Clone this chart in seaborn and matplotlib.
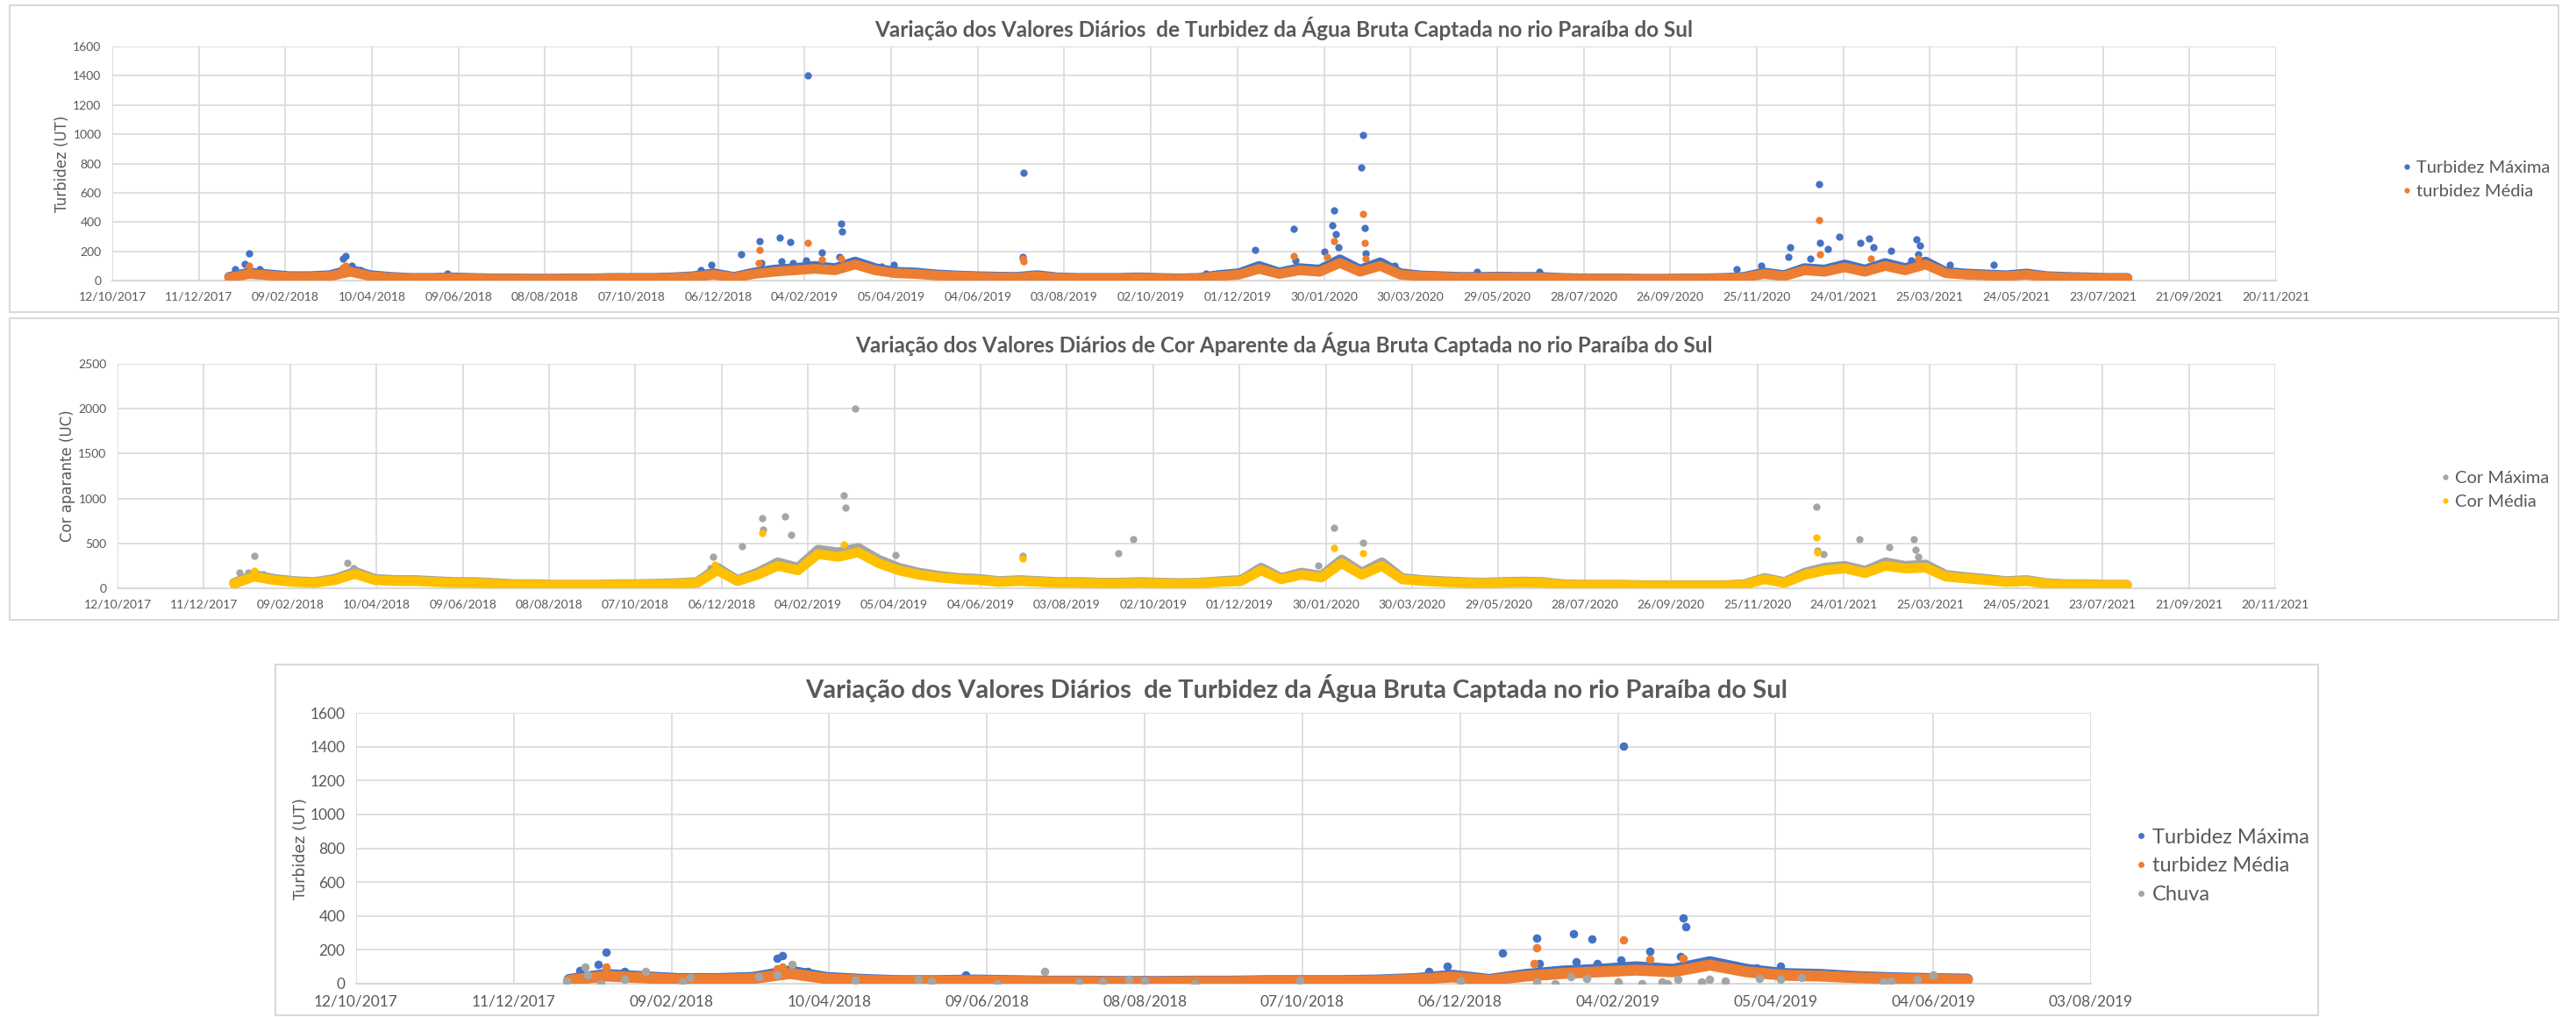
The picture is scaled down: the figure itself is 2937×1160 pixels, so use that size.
import pandas as pd
import matplotlib
matplotlib.use("Agg")
import matplotlib.pyplot as plt
import matplotlib.dates as mdates
from matplotlib.lines import Line2D
from matplotlib.patches import Rectangle
import seaborn as sns

# ---------------- dados ----------------
# valores de base quinzenais, a partir de 01/01/2018
base_inicio = "2018-01-01"

turb_max_base = [25, 55, 42, 30, 30, 37, 75, 37, 25, 18, 18, 22, 18, 15, 15, 13, 13, 15, 15, 18,
                 18, 18, 22, 30, 50, 25, 55, 75, 85, 100, 85, 130, 85, 60, 55, 42, 35, 30, 27, 25,
                 37, 22, 18, 18, 18, 22, 18, 15, 18, 38, 50, 100, 55, 85, 75, 145, 75, 125, 50, 35,
                 30, 25, 25, 27, 25, 25, 18, 15, 15, 15, 12, 12, 15, 15, 18, 25, 55, 37, 85, 75,
                 110, 75, 120, 85, 130, 60, 48, 42, 36, 48, 30, 25, 22, 18, 18]
turb_med_base = [20, 45, 35, 25, 25, 30, 60, 30, 20, 15, 15, 18, 15, 12, 12, 10, 10, 12, 12, 15,
                 15, 15, 18, 25, 40, 20, 45, 60, 70, 80, 70, 110, 70, 50, 45, 35, 30, 25, 22, 20,
                 30, 18, 15, 15, 15, 18, 15, 12, 15, 30, 40, 80, 45, 70, 60, 120, 60, 100, 40, 30,
                 25, 20, 20, 22, 20, 20, 15, 12, 12, 12, 10, 10, 12, 12, 15, 20, 45, 30, 70, 60,
                 90, 60, 100, 70, 110, 50, 40, 35, 30, 40, 25, 20, 18, 15, 15]
cor_max_base = [60, 150, 105, 80, 70, 105, 185, 105, 92, 92, 80, 70, 70, 58, 46, 46, 40, 40, 40, 46,
                46, 52, 58, 70, 230, 92, 175, 290, 230, 430, 400, 450, 320, 230, 175, 140, 115, 105, 80, 92,
                80, 70, 70, 63, 63, 70, 63, 58, 63, 80, 92, 230, 115, 175, 140, 320, 175, 290, 115, 92,
                80, 70, 63, 70, 75, 70, 46, 40, 40, 40, 35, 35, 35, 35, 35, 46, 115, 70, 175, 230,
                250, 195, 290, 250, 265, 150, 125, 105, 80, 92, 58, 46, 46, 40, 40]
cor_med_base = [50, 130, 90, 70, 60, 90, 160, 90, 80, 80, 70, 60, 60, 50, 40, 40, 35, 35, 35, 40,
                40, 45, 50, 60, 200, 80, 150, 250, 200, 380, 350, 400, 280, 200, 150, 120, 100, 90, 70, 80,
                70, 60, 60, 55, 55, 60, 55, 50, 55, 70, 80, 200, 100, 150, 120, 280, 150, 250, 100, 80,
                70, 60, 55, 60, 65, 60, 40, 35, 35, 35, 30, 30, 30, 30, 30, 40, 100, 60, 150, 200,
                220, 170, 250, 220, 230, 130, 110, 90, 70, 80, 50, 40, 40, 35, 35]

# dias com picos
turb_max_pico_datas = ["2018-01-05", "2018-01-12", "2018-01-15", "2018-01-22", "2018-03-21", "2018-03-23",
                       "2018-03-27", "2018-04-02", "2018-06-01", "2018-11-24", "2018-12-01", "2018-12-22",
                       "2019-01-04", "2019-01-05", "2019-01-18", "2019-01-19", "2019-01-25", "2019-01-27",
                       "2019-02-05", "2019-02-06", "2019-02-16", "2019-02-28", "2019-03-01", "2019-03-02",
                       "2019-03-10", "2019-03-29", "2019-04-07", "2019-07-05", "2019-07-06", "2019-11-09",
                       "2019-12-13", "2020-01-09", "2020-01-10", "2020-01-30", "2020-02-05", "2020-02-06",
                       "2020-02-07", "2020-02-09", "2020-02-25", "2020-02-26", "2020-02-27", "2020-02-28",
                       "2020-03-19", "2020-05-15", "2020-06-27", "2020-11-11", "2020-11-28", "2020-12-17",
                       "2020-12-18", "2021-01-01", "2021-01-07", "2021-01-08", "2021-01-13", "2021-01-21",
                       "2021-02-05", "2021-02-11", "2021-02-14", "2021-02-26", "2021-03-12", "2021-03-16",
                       "2021-03-17", "2021-03-18", "2021-04-08", "2021-05-08"]
turb_max_pico_valores = [80, 115, 185, 75, 150, 165,
                         100, 70, 50, 70, 105, 180,
                         270, 120, 295, 130, 265, 120,
                         140, 1405, 190, 160, 390, 335,
                         110, 95, 105, 160, 735, 50,
                         210, 355, 140, 195, 375, 480,
                         320, 230, 775, 995, 360, 185,
                         100, 60, 60, 80, 100, 160,
                         230, 150, 660, 255, 215, 300,
                         260, 290, 230, 205, 140, 280,
                         180, 240, 105, 105]
turb_med_pico_datas = ["2018-01-15", "2018-03-21", "2018-03-23", "2019-01-03", "2019-01-04", "2019-02-06",
                       "2019-02-16", "2019-03-01", "2019-07-05", "2019-07-06", "2020-01-09", "2020-02-01",
                       "2020-02-06", "2020-02-26", "2020-02-27", "2020-02-28", "2021-01-07", "2021-01-08",
                       "2021-02-12", "2021-03-17"]
turb_med_pico_valores = [100, 90, 100, 120, 210, 260,
                         145, 150, 150, 130, 170, 160,
                         270, 455, 260, 150, 415, 180,
                         150, 150]
cor_max_pico_datas = ["2018-01-05", "2018-01-11", "2018-01-15", "2018-01-21", "2018-03-21", "2018-03-25",
                      "2018-11-28", "2018-11-30", "2018-12-20", "2019-01-03", "2019-01-04", "2019-01-19",
                      "2019-01-23", "2019-03-01", "2019-03-02", "2019-03-09", "2019-04-06", "2019-07-03",
                      "2019-09-08", "2019-09-18", "2020-01-25", "2020-02-05", "2020-02-25", "2021-01-05",
                      "2021-01-06", "2021-01-10", "2021-02-04", "2021-02-25", "2021-03-14", "2021-03-15",
                      "2021-03-17"]
cor_max_pico_valores = [180, 180, 365, 160, 280, 220,
                        220, 350, 470, 780, 650, 800,
                        600, 1040, 900, 2000, 370, 365,
                        390, 550, 250, 670, 510, 905,
                        420, 380, 550, 460, 550, 430,
                        355]
cor_med_pico_datas = ["2018-01-15", "2018-12-01", "2019-01-03", "2019-03-01", "2019-07-03", "2020-02-05",
                      "2020-02-25", "2021-01-05", "2021-01-06"]
cor_med_pico_valores = [200, 260, 620, 490, 330, 450,
                        390, 570, 400]

# chuva (mm) - apenas até junho/2019
chuva_datas = ["2017-12-31", "2018-01-07", "2018-01-08", "2018-01-13", "2018-01-22", "2018-01-30",
               "2018-02-13", "2018-02-16", "2018-03-14", "2018-03-21", "2018-03-27", "2018-04-20",
               "2018-05-14", "2018-05-19", "2018-06-13", "2018-07-01", "2018-07-14", "2018-07-23",
               "2018-08-02", "2018-08-08", "2018-08-27", "2018-10-06", "2018-12-06", "2019-01-04",
               "2019-01-11", "2019-01-17", "2019-01-23", "2019-02-04", "2019-02-13", "2019-02-21",
               "2019-02-23", "2019-02-27", "2019-03-08", "2019-03-11", "2019-03-17", "2019-03-30",
               "2019-04-07", "2019-04-15", "2019-05-16", "2019-05-19", "2019-05-29", "2019-06-04"]
chuva_valores = [17, 96, 52, 0, 26, 70,
                 9, 35, 43, 52, 113, 20,
                 26, 17, 0, 70, 9, 9,
                 26, 15, 0, 20, 15, 9,
                 0, 43, 30, 9, 0, 9,
                 0, 26, 9, 26, 17, 30,
                 26, 35, 9, 17, 26, 52]

ticks_x = ["12/10/2017", "11/12/2017", "09/02/2018", "10/04/2018", "09/06/2018", "08/08/2018",
           "07/10/2018", "06/12/2018", "04/02/2019", "05/04/2019", "04/06/2019", "03/08/2019",
           "02/10/2019", "01/12/2019", "30/01/2020", "30/03/2020", "29/05/2020", "28/07/2020",
           "26/09/2020", "25/11/2020", "24/01/2021", "25/03/2021", "24/05/2021", "23/07/2021",
           "21/09/2021", "20/11/2021"]

titulo_turb = "Variação dos Valores Diários  de Turbidez da Água Bruta Captada no rio Paraíba do Sul"
titulo_cor = "Variação dos Valores Diários de Cor Aparente da Água Bruta Captada no rio Paraíba do Sul"

AZUL, LARANJA, CINZA, OURO = "#4472C4", "#ED7D31", "#A5A5A5", "#FFC000"
TXT = "#595959"
GRADE = "#D9D9D9"

# ---------------- estilo ----------------
sns.set_theme(style="white")
plt.rcParams["font.family"] = ["Lato", "DejaVu Sans"]

W, H = 2937, 1160
fig = plt.figure(figsize=(W / 100, H / 100), dpi=100)


def serie(valores, datas=None):
    if datas is None:
        datas = pd.date_range(base_inicio, periods=len(valores), freq="14D")
    return pd.DataFrame({"data": pd.to_datetime(datas), "valor": valores})


def eixo(px):
    # px = (esquerda, topo, direita, base) em pixels
    l, t, r, b = px
    return fig.add_axes([l / W, 1 - b / H, (r - l) / W, (b - t) / H])


def caixa(l, t, r, b):
    fig.add_artist(Rectangle((l / W, 1 - b / H), (r - l) / W, (b - t) / H, transform=fig.transFigure,
                             fill=False, ec=GRADE, lw=1.5))


def formata(ax, ticks, ymax, ystep, tick_fs):
    tk = pd.to_datetime(ticks, format="%d/%m/%Y")
    ax.set_xlim(tk[0], tk[-1])
    ax.set_xticks(tk)
    ax.xaxis.set_major_formatter(mdates.DateFormatter("%d/%m/%Y"))
    ax.set_ylim(0, ymax)
    ax.set_yticks(range(0, ymax + 1, ystep))
    ax.grid(True, color=GRADE, lw=1.2)
    ax.set_axisbelow(True)
    for s in ["top", "right", "left"]:
        ax.spines[s].set_visible(False)
    ax.spines["bottom"].set_color(GRADE)
    ax.spines["bottom"].set_linewidth(1.5)
    ax.tick_params(length=0, labelsize=tick_fs, labelcolor=TXT, pad=9)
    ax.set_xlabel("")
    ax.set_ylabel("")


def desenha(ax, base, picos, cor, lw, s, ate=None):
    b = serie(base)
    p = serie(picos[1], picos[0])
    if ate is not None:
        b = b[b["data"] <= ate]
        p = p[p["data"] <= ate]
    sns.scatterplot(data=p, x="data", y="valor", ax=ax, color=cor, s=s, linewidth=0, zorder=3)
    sns.lineplot(data=b, x="data", y="valor", ax=ax, color=cor, lw=lw, zorder=3,
                 solid_capstyle="round", solid_joinstyle="round")


def legenda(itens, x, y, fs, ms, sp):
    hs = [Line2D([], [], ls="", marker="o", color=c, markersize=ms, markeredgewidth=0) for c, _ in itens]
    fig.legend(hs, [t for _, t in itens], loc="center left", bbox_to_anchor=(x / W, 1 - y / H),
               frameon=False, fontsize=fs, labelcolor=TXT, handlelength=0.4, handletextpad=0.35,
               labelspacing=sp, borderpad=0, borderaxespad=0)


# ---------------- painel 1: turbidez ----------------
caixa(11, 6, 2917, 356)
ax1 = eixo((128, 53, 2595, 320))
desenha(ax1, turb_max_base, (turb_max_pico_datas, turb_max_pico_valores), AZUL, 8, 36)
desenha(ax1, turb_med_base, (turb_med_pico_datas, turb_med_pico_valores), LARANJA, 8, 36)
formata(ax1, ticks_x, 1600, 200, 10)
fig.text(1464 / W, 1 - 33 / H, titulo_turb, ha="center", va="center", fontsize=17.5,
         fontweight="bold", color=TXT)
fig.text(71 / W, 1 - 187 / H, "Turbidez (UT)", rotation=90, ha="center", va="center",
         fontsize=12, color=TXT, family="DejaVu Sans")
legenda([(AZUL, "Turbidez Máxima"), (LARANJA, "turbidez Média")], 2740, 205, 14.5, 4.5, 0.45)

# ---------------- painel 2: cor aparente ----------------
caixa(11, 363, 2917, 707)
ax2 = eixo((134, 415, 2594, 671))
desenha(ax2, cor_max_base, (cor_max_pico_datas, cor_max_pico_valores), CINZA, 8, 36)
desenha(ax2, cor_med_base, (cor_med_pico_datas, cor_med_pico_valores), OURO, 8, 36)
formata(ax2, ticks_x, 2500, 500, 10)
fig.text(1464 / W, 1 - 393 / H, titulo_cor, ha="center", va="center", fontsize=17.5,
         fontweight="bold", color=TXT)
fig.text(77 / W, 1 - 543 / H, "Cor aparante (UC)", rotation=90, ha="center", va="center",
         fontsize=12, color=TXT, family="DejaVu Sans")
legenda([(CINZA, "Cor Máxima"), (OURO, "Cor Média")], 2784, 559, 14.5, 4.5, 0.45)

# ---------------- painel 3: turbidez x chuva ----------------
caixa(314, 758, 2643, 1158)
ax3 = eixo((406, 813, 2384, 1122))
ate = pd.Timestamp("2019-06-19")
desenha(ax3, turb_max_base, (turb_max_pico_datas, turb_max_pico_valores), AZUL, 9, 48, ate)
desenha(ax3, turb_med_base, (turb_med_pico_datas, turb_med_pico_valores), LARANJA, 9, 48, ate)
chuva = serie(chuva_valores, chuva_datas)
sns.scatterplot(data=chuva, x="data", y="valor", ax=ax3, color=CINZA, s=48, linewidth=0, zorder=3)
formata(ax3, ticks_x[:12], 1600, 200, 12.5)
fig.text(1478 / W, 1 - 785 / H, titulo_turb, ha="center", va="center", fontsize=21,
         fontweight="bold", color=TXT)
fig.text(343 / W, 1 - 968 / H, "Turbidez (UT)", rotation=90, ha="center", va="center",
         fontsize=12.5, color=TXT, family="DejaVu Sans")
legenda([(AZUL, "Turbidez Máxima"), (LARANJA, "turbidez Média"), (CINZA, "Chuva")],
        2436, 988, 17, 5, 0.5)

fig.savefig("out.png", dpi=100)
